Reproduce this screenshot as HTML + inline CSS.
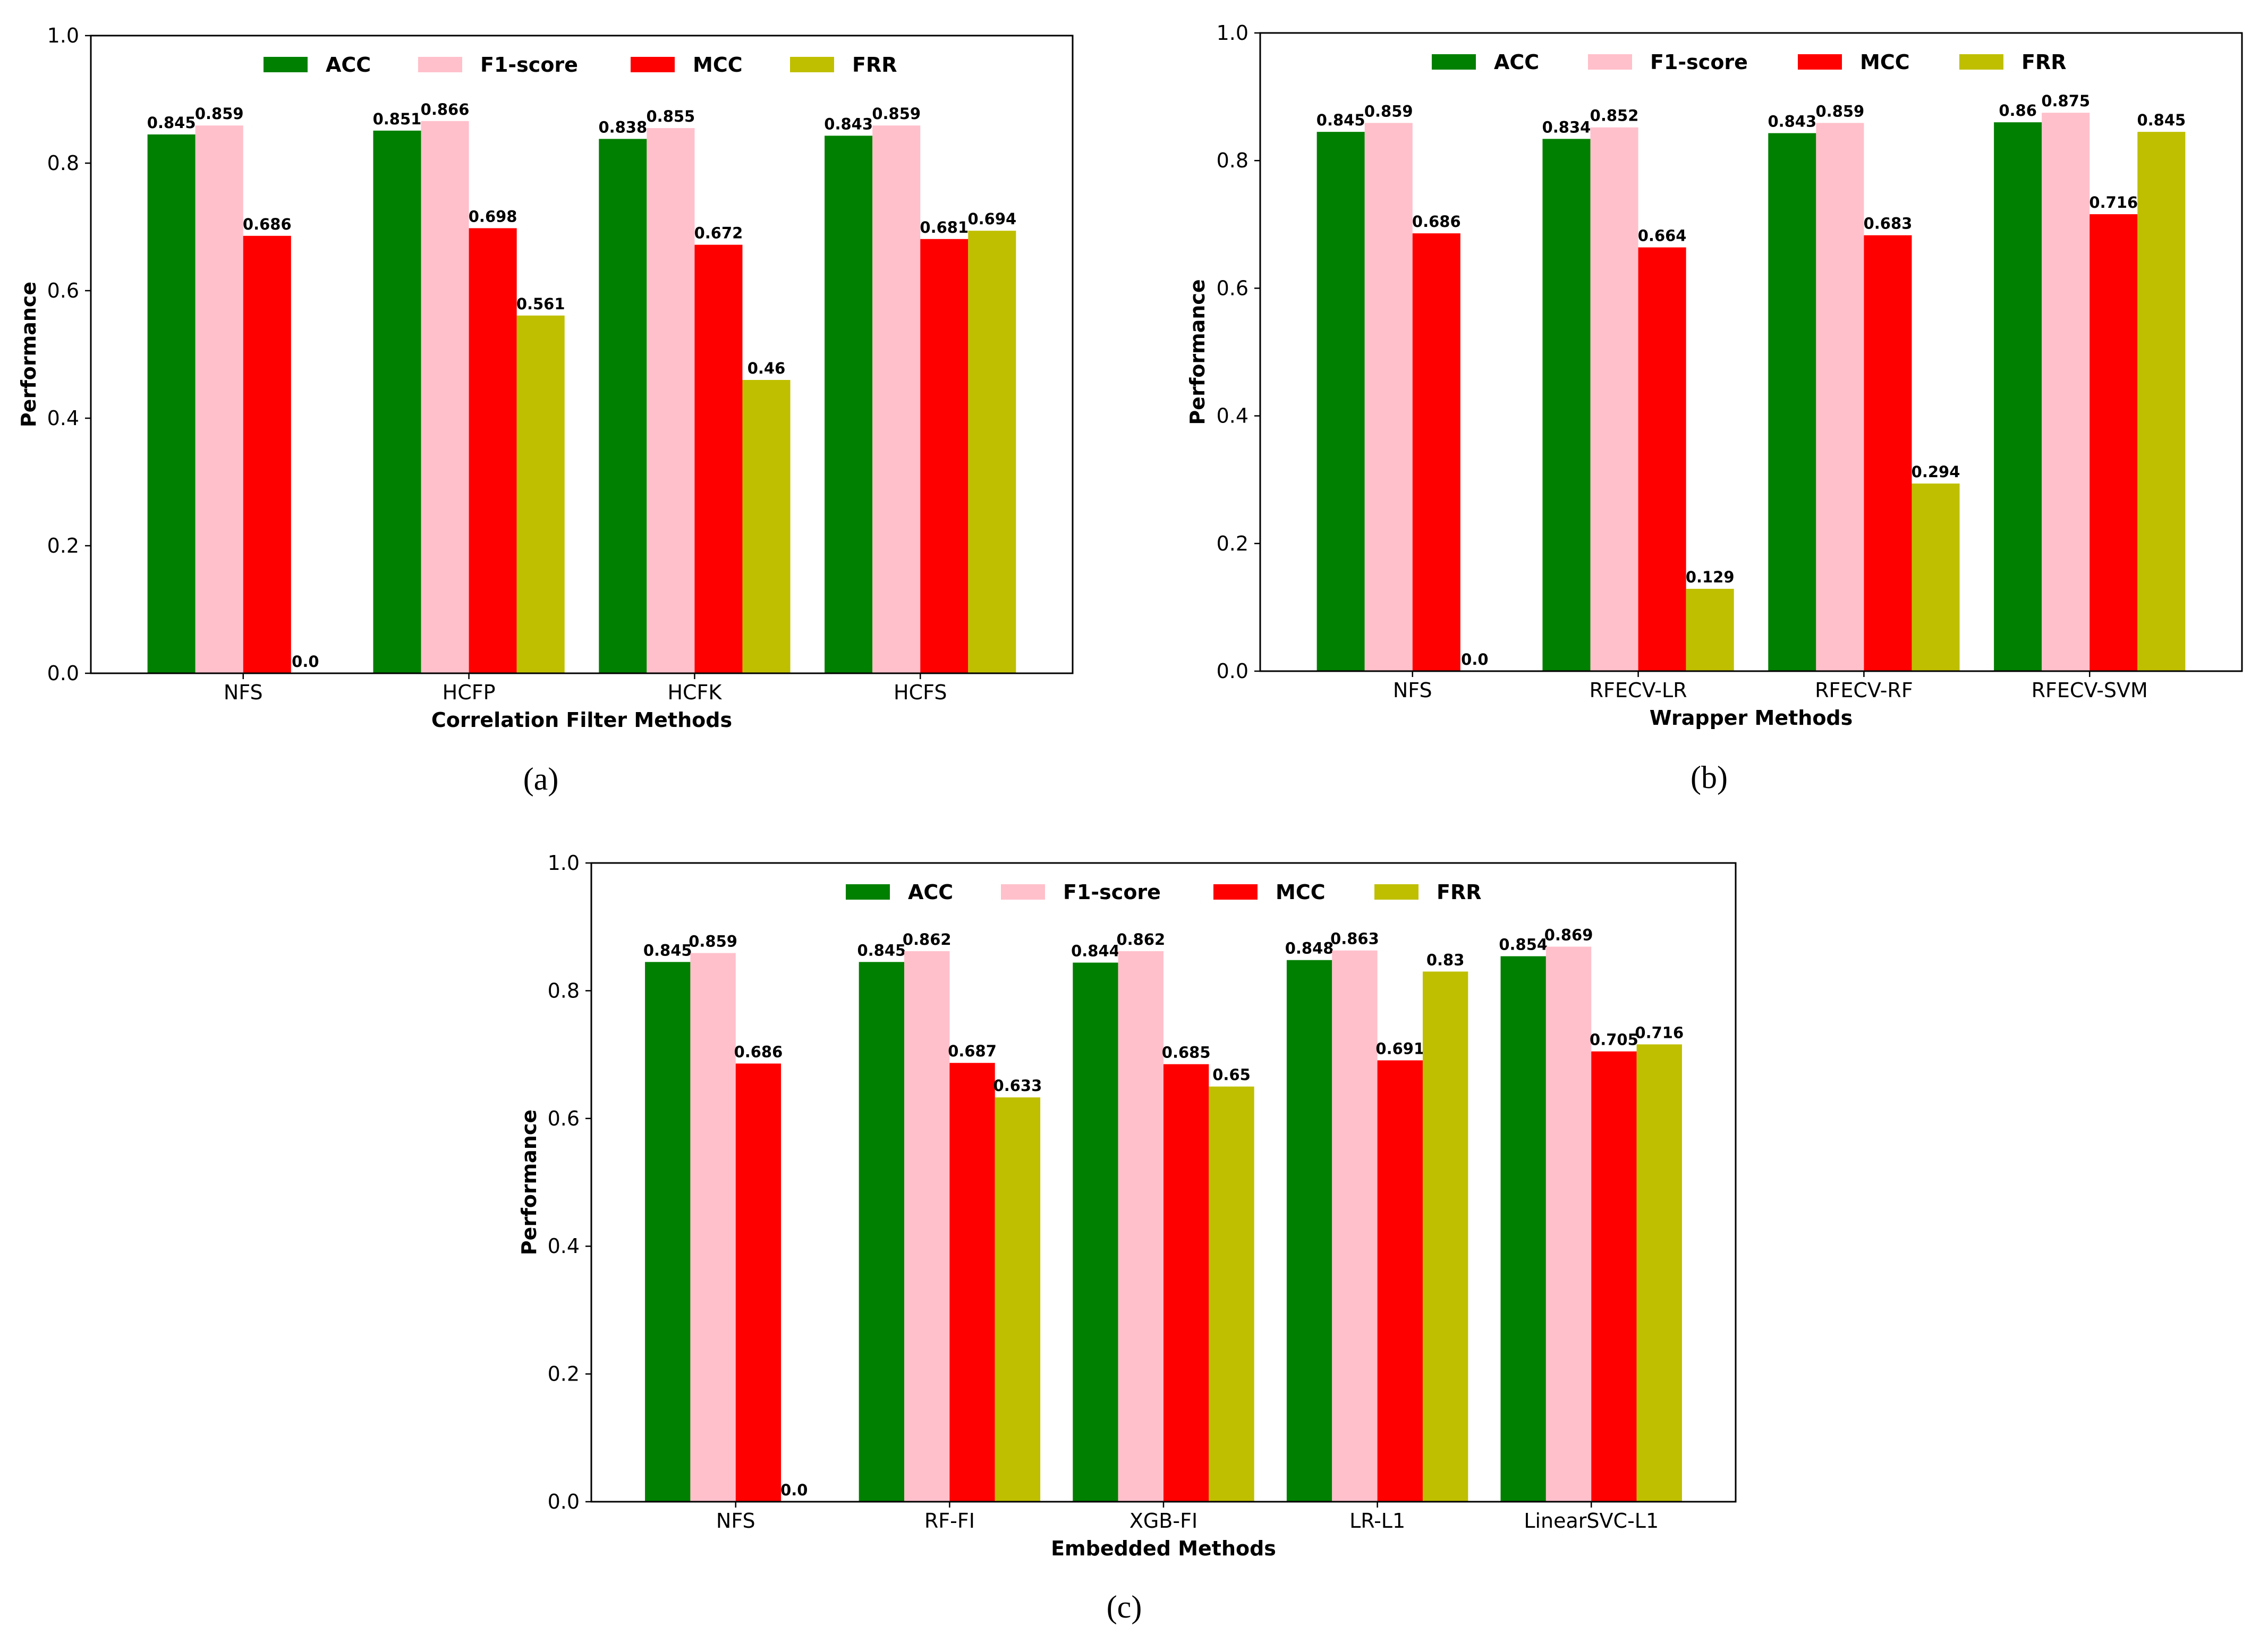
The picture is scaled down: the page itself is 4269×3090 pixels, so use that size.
<!DOCTYPE html>
<html><head><meta charset="utf-8"><style>
html,body{margin:0;padding:0;background:#fff}
svg{display:block}
text{font-family:"DejaVu Sans","Liberation Sans",sans-serif}
</style></head><body>
<svg id="fig" width="4269" height="3090" viewBox="0 0 4269 3090" xmlns="http://www.w3.org/2000/svg"></svg>
<script>
const seriesNames = ["ACC","F1-score","MCC","FRR"];
const catsA = ["NFS","HCFP","HCFK","HCFS"];
const accA = [0.845,0.851,0.838,0.843];
const f1A = [0.859,0.866,0.855,0.859];
const mccA = [0.686,0.698,0.672,0.681];
const frrA = [0.0,0.561,0.46,0.694];
const catsB = ["NFS","RFECV-LR","RFECV-RF","RFECV-SVM"];
const accB = [0.845,0.834,0.843,0.86];
const f1B = [0.859,0.852,0.859,0.875];
const mccB = [0.686,0.664,0.683,0.716];
const frrB = [0.0,0.129,0.294,0.845];
const catsC = ["NFS","RF-FI","XGB-FI","LR-L1","LinearSVC-L1"];
const accC = [0.845,0.845,0.844,0.848,0.854];
const f1C = [0.859,0.862,0.862,0.863,0.869];
const mccC = [0.686,0.687,0.685,0.691,0.705];
const frrC = [0.0,0.633,0.65,0.83,0.716];
const yTicks = [0.0,0.2,0.4,0.6,0.8,1.0];

const NS="http://www.w3.org/2000/svg";
const fig=document.getElementById('fig');
const colors=["#008000","#FFC0CB","#FF0000","#BFBF00"];
function mk(tag,attrs,parent,txt){const e=document.createElementNS(NS,tag);for(const k in attrs)e.setAttribute(k,attrs[k]);if(txt!==undefined)e.textContent=txt;parent.appendChild(e);return e;}

function chart(id,box,cats,series,xtitle,legendX,legendY,panelLabel,panelPos,ytitleX){
  const g=mk('g',{},fig);
  
  
  const {l,r,t,b}=box;
  const n=cats.length, m=0.675, w=0.212;
  const xs=v=>l+(v+m)/(n-1+2*m)*(r-l);
  const ys=v=>b-v*(b-t);
  series.forEach((vals,k)=>{
    vals.forEach((v,i)=>{
      const x0=xs(i+(k-2)*w), x1=xs(i+(k-1)*w);
      const rc=mk('rect',{x:x0,y:ys(v),width:x1-x0,height:b-ys(v),fill:colors[k]},g);
      
      
      const cx=(x0+x1)/2-(v===0?18:0);
      const tx=mk('text',{x:cx,y:ys(v)-12,'text-anchor':'middle','font-size':29,'font-weight':'bold'},g,v===0?'0.0':String(v));
      
      
    });
  });
  const fr=mk('rect',{x:l,y:t,width:r-l,height:b-t,fill:'none',stroke:'#000','stroke-width':3},g);
  
  
  yTicks.forEach(v=>{
    mk('line',{x1:l-11,x2:l,y1:ys(v),y2:ys(v),stroke:'#000','stroke-width':2.5},g);
    const tx=mk('text',{x:l-22,y:ys(v),'text-anchor':'end','dominant-baseline':'central','font-size':38},g,v.toFixed(1));
    
    
  });
  cats.forEach((c,i)=>{
    mk('line',{x1:xs(i),x2:xs(i),y1:b,y2:b+11,stroke:'#000','stroke-width':2.5},g);
    const tx=mk('text',{x:xs(i),y:b+36,'text-anchor':'middle','dominant-baseline':'central','font-size':38},g,c);
    
    
  });
  const xt=mk('text',{x:(l+r)/2,y:b+88,'text-anchor':'middle','dominant-baseline':'central','font-size':38,'font-weight':'bold'},g,xtitle);
  
  
  const cy=(t+b)/2;
  const yt=mk('text',{x:ytitleX,y:cy,'text-anchor':'middle','dominant-baseline':'central','font-size':38,'font-weight':'bold',transform:`rotate(-90 ${ytitleX} ${cy})`},g,'Performance');
  
  
  seriesNames.forEach((s,k)=>{
    const lg=mk('g',{},g);
    
    
    mk('rect',{x:legendX[k],y:legendY,width:83,height:29,fill:colors[k]},lg);
    mk('text',{x:legendX[k]+117,y:legendY+15,'dominant-baseline':'central','font-size':38,'font-weight':'bold'},lg,s);
  });
  const pl=mk('text',{x:panelPos[0],y:panelPos[1],'text-anchor':'middle','dominant-baseline':'central','font-size':60,style:'font-family:"Liberation Serif",serif'},g,panelLabel);
  
  
}

chart('chart-a',{l:171,r:2019,t:67,b:1267},catsA,[accA,f1A,mccA,frrA],'Correlation Filter Methods',[496,787,1187,1487],107,'(a)',[1018,1466],54);
chart('chart-b',{l:2372,r:4220,t:62,b:1263},catsB,[accB,f1B,mccB,frrB],'Wrapper Methods',[2695,2989,3384,3688],102,'(b)',[3217,1463],2254);
chart('chart-c',{l:1113,r:3267,t:1624,b:2826},catsC,[accC,f1C,mccC,frrC],'Embedded Methods',[1592,1884,2284,2587],1664,'(c)',[2116,3024],996);
</script>
</body></html>
